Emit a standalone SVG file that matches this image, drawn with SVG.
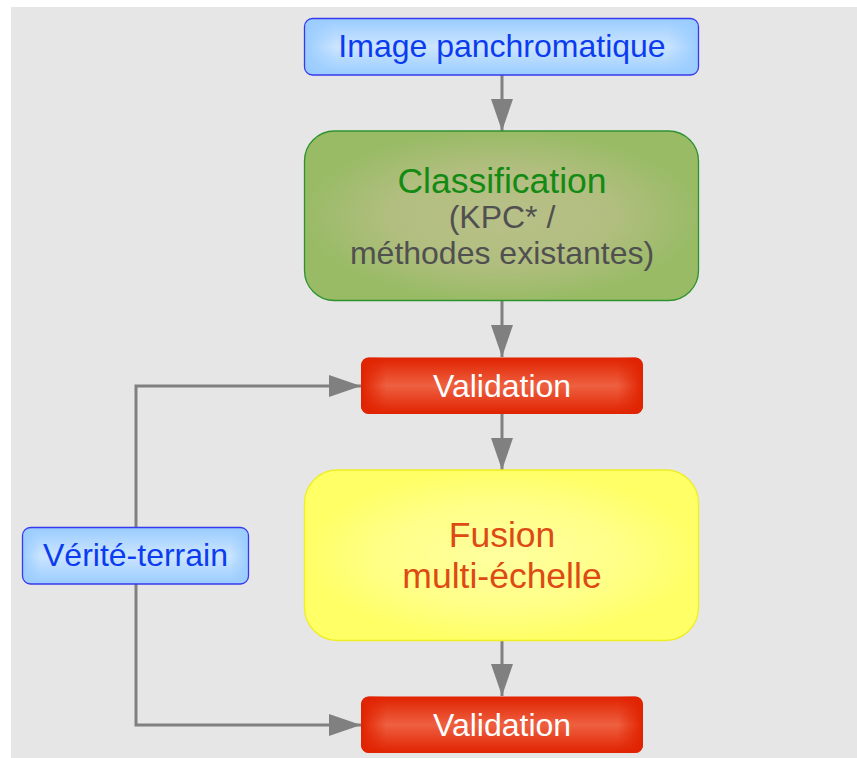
<svg xmlns="http://www.w3.org/2000/svg" width="857" height="758" viewBox="0 0 857 758">
  <defs>
    <style>
      text { font-family: "Liberation Sans", Arial, sans-serif; text-anchor: middle; }
      .blue { fill: #0c3cf0; font-size: 32px; }
      .white { fill: #ffffff; font-size: 32px; }
      .green { fill: #138a13; font-size: 35.5px; }
      .grey { fill: #505050; font-size: 32px; }
      .orange { fill: #dd4a14; font-size: 35.5px; }
      .conn { fill: none; stroke: #808080; stroke-width: 3; }
    </style>
    <marker id="arrow" markerUnits="userSpaceOnUse" viewBox="0 0 32 22" refX="32" refY="11" markerWidth="32" markerHeight="22" orient="auto">
      <path d="M0,0 L32,11 L0,22 Z" fill="#808080"/>
    </marker>
    <!-- blue boxes -->
    <linearGradient id="blueV" x1="0" y1="0" x2="0" y2="1">
      <stop offset="0" stop-color="#99ccff"/>
      <stop offset="0.5" stop-color="#cce5ff"/>
      <stop offset="1" stop-color="#99ccff"/>
    </linearGradient>
    <linearGradient id="blueH" x1="0" y1="0" x2="1" y2="0">
      <stop offset="0" stop-color="#99ccff" stop-opacity="1"/>
      <stop offset="0.08" stop-color="#99ccff" stop-opacity="0"/>
      <stop offset="0.92" stop-color="#99ccff" stop-opacity="0"/>
      <stop offset="1" stop-color="#99ccff" stop-opacity="1"/>
    </linearGradient>
    <!-- red boxes -->
    <linearGradient id="redV" x1="0" y1="0" x2="0" y2="1">
      <stop offset="0" stop-color="#e02200"/>
      <stop offset="0.5" stop-color="#ee6040"/>
      <stop offset="1" stop-color="#e02200"/>
    </linearGradient>
    <linearGradient id="redH" x1="0" y1="0" x2="1" y2="0">
      <stop offset="0" stop-color="#e02200" stop-opacity="1"/>
      <stop offset="0.09" stop-color="#e02200" stop-opacity="0"/>
      <stop offset="0.91" stop-color="#e02200" stop-opacity="0"/>
      <stop offset="1" stop-color="#e02200" stop-opacity="1"/>
    </linearGradient>
    <!-- green box -->
    <radialGradient id="greenR" cx="0.5" cy="0.5" r="0.5">
      <stop offset="0" stop-color="#b8c088"/>
      <stop offset="0.55" stop-color="#b2be80"/>
      <stop offset="1" stop-color="#99bb66"/>
    </radialGradient>
    <!-- yellow box -->
    <radialGradient id="yellowR" cx="0.5" cy="0.5" r="0.5">
      <stop offset="0" stop-color="#ffffa0"/>
      <stop offset="0.6" stop-color="#ffff88"/>
      <stop offset="1" stop-color="#ffff66"/>
    </radialGradient>
  </defs>

  <!-- page background -->
  <rect x="11" y="7" width="846" height="751" fill="#e6e6e6"/>

  <!-- connectors -->
  <g id="connectors">
    <line class="conn" x1="502" y1="75" x2="502" y2="131" marker-end="url(#arrow)"/>
    <line class="conn" x1="502" y1="301" x2="502" y2="357" marker-end="url(#arrow)"/>
    <line class="conn" x1="502" y1="414" x2="502" y2="470" marker-end="url(#arrow)"/>
    <line class="conn" x1="502" y1="641" x2="502" y2="696" marker-end="url(#arrow)"/>
    <polyline class="conn" points="136,527 136,386 361,386" marker-end="url(#arrow)"/>
    <polyline class="conn" points="136,584 136,725 361,725" marker-end="url(#arrow)"/>
  </g>

  <g id="image-panchromatique">
    <rect x="304.5" y="18.5" width="394" height="56.5" rx="8" fill="url(#blueV)"/>
    <rect x="304.5" y="18.5" width="394" height="56.5" rx="8" fill="url(#blueH)" stroke="#3838ee" stroke-width="1.3"/>
    <text class="blue" x="502" y="57">Image panchromatique</text>
  </g>

  <g id="classification">
    <rect x="304.5" y="131" width="394" height="169.5" rx="30" fill="url(#greenR)" stroke="#2f922f" stroke-width="1.3"/>
    <text class="green" x="502" y="193">Classification</text>
    <text class="grey" x="502" y="228">(KPC* /</text>
    <text class="grey" x="502" y="264">méthodes existantes)</text>
  </g>

  <g id="validation-1">
    <rect x="361" y="357.5" width="282" height="56.5" rx="8" fill="url(#redV)"/>
    <rect x="361" y="357.5" width="282" height="56.5" rx="8" fill="url(#redH)"/>
    <text class="white" x="502" y="397">Validation</text>
  </g>

  <g id="fusion">
    <rect x="304.5" y="470" width="394" height="170.5" rx="33" fill="url(#yellowR)" stroke="#eeee22" stroke-width="1.3"/>
    <text class="orange" x="502" y="547">Fusion</text>
    <text class="orange" x="502" y="588">multi-échelle</text>
  </g>

  <g id="validation-2">
    <rect x="361" y="696.5" width="282" height="56.5" rx="8" fill="url(#redV)"/>
    <rect x="361" y="696.5" width="282" height="56.5" rx="8" fill="url(#redH)"/>
    <text class="white" x="502" y="736">Validation</text>
  </g>

  <g id="verite-terrain">
    <rect x="22.5" y="527.5" width="226" height="56.5" rx="8" fill="url(#blueV)"/>
    <rect x="22.5" y="527.5" width="226" height="56.5" rx="8" fill="url(#blueH)" stroke="#3838ee" stroke-width="1.3"/>
    <text class="blue" x="135.5" y="566">Vérité-terrain</text>
  </g>
</svg>
